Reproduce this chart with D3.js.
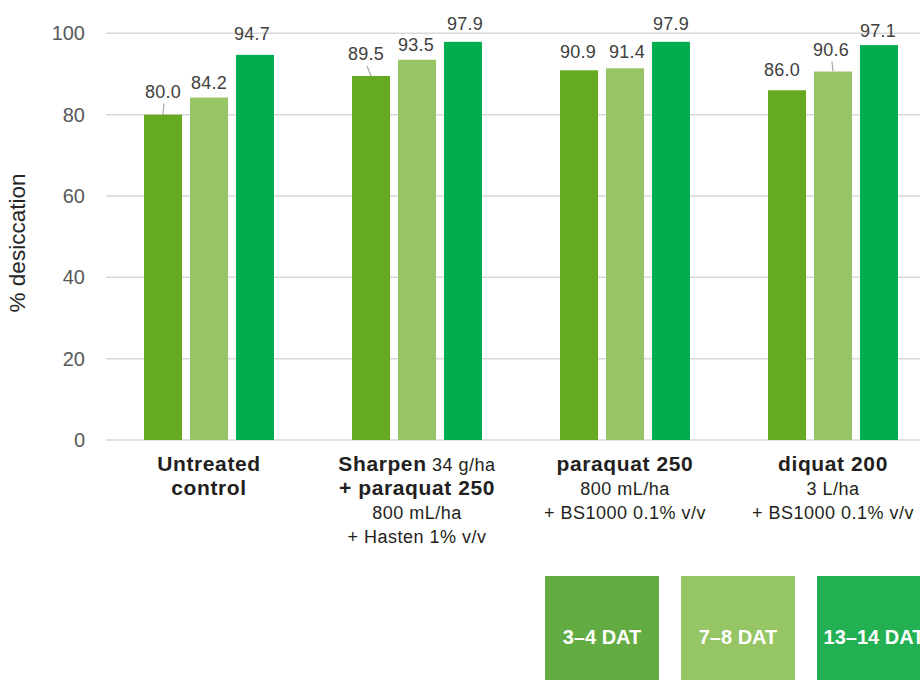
<!DOCTYPE html>
<html>
<head>
<meta charset="utf-8">
<script src="https://cdn.jsdelivr.net/npm/d3@7"></script>
<style>
  html, body { margin: 0; padding: 0; background: #fff; }
  svg { display: block; font-family: "Liberation Sans", Arial, sans-serif; }
</style>
</head>
<body>
<svg id="chart" width="920" height="680"></svg>
<script>
// ---- data ----
const categories = ["Untreated control", "Sharpen + paraquat 250", "paraquat 250", "diquat 200"];
const series = ["3–4 DAT", "7–8 DAT", "13–14 DAT"];
const valuesDAT34 = [80.0, 89.5, 90.9, 86.0];
const valuesDAT78 = [84.2, 93.5, 91.4, 90.6];
const valuesDAT1314 = [94.7, 97.9, 97.9, 97.1];
const yTicks = [0, 20, 40, 60, 80, 100];
const yTitle = "% desiccation";
const categoryLines = [
  [[["Untreated", true]], [["control", true]]],
  [[["Sharpen", true], [" 34 g/ha", false]], [["+ paraquat 250", true]], [["800 mL/ha", false]], [["+ Hasten 1% v/v", false]]],
  [[["paraquat 250", true]], [["800 mL/ha", false]], [["+ BS1000 0.1% v/v", false]]],
  [[["diquat 200", true]], [["3 L/ha", false]], [["+ BS1000 0.1% v/v", false]]]
];

// ---- layout / style (not data) ----
const barColors = ["#66aa22", "#97c566", "#00ad4f"];
const legendColors = ["#62ac43", "#96c565", "#22b052"];
// per-label nudges [dx, gap above bar top, leader line]
const labelNudge = [
  [[0, 17, true], [0, 9, false], [-3, 15, false]],
  [[-5, 16, true], [-1, 9, false], [2, 12, false]],
  [[-1, 12, false], [2, 10, false], [0, 12, false]],
  [[-5, 14, false], [-2, 16, true], [-1, 8, false]]
];

const seriesValues = [valuesDAT34, valuesDAT78, valuesDAT1314];
const svg = d3.select("#chart");

const x0 = d3.scaleBand().domain(categories).range([105, 937]).paddingInner(0.375).paddingOuter(0.1875);
const x1 = d3.scaleBand().domain(series).range([0, x0.bandwidth()]).paddingInner(8 / 46);
const y = d3.scaleLinear().domain([0, 100]).range([440, 33.3]);

// gridlines + tick labels
const yAxis = d3.axisLeft(y).tickValues(yTicks).tickSize(0).tickPadding(21);
const gAxis = svg.append("g").attr("transform", "translate(106,0)").call(yAxis);
gAxis.select(".domain").remove();
gAxis.selectAll("text")
  .attr("font-size", 20)
  .attr("fill", "#595959")
  .attr("font-family", "Liberation Sans, Arial, sans-serif");
svg.append("g").selectAll("line").data(yTicks).join("line")
  .attr("x1", 106).attr("x2", 920)
  .attr("y1", d => y(d)).attr("y2", d => y(d))
  .attr("stroke", "#d9d9d9").attr("stroke-width", 1.5);

// y title
svg.append("text")
  .attr("transform", `translate(25,243) rotate(-90)`)
  .attr("text-anchor", "middle")
  .attr("font-size", 22.5)
  .attr("fill", "#262626")
  .text(yTitle);

// bars
const groups = svg.append("g").selectAll("g").data(categories).join("g")
  .attr("transform", d => `translate(${x0(d)},0)`);

groups.each(function(cat, ci) {
  const g = d3.select(this);
  series.forEach((s, si) => {
    const v = seriesValues[si][ci];
    const bx = x1(s), bw = x1.bandwidth();
    g.append("rect")
      .attr("x", bx).attr("y", y(v))
      .attr("width", bw).attr("height", y(0) - y(v))
      .attr("fill", barColors[si]);
    const [dx, gap, leader] = labelNudge[ci][si];
    const lx = bx + bw / 2 + dx;
    const ly = y(v) - gap;
    g.append("text")
      .attr("x", lx).attr("y", ly)
      .attr("text-anchor", "middle")
      .attr("font-size", 18)
      .attr("letter-spacing", 0.3)
      .attr("fill", "#404040")
      .text(v.toFixed(1));
    if (leader) {
      g.append("line")
        .attr("x1", lx + 1).attr("y1", ly + 6)
        .attr("x2", bx + bw / 2).attr("y2", y(v))
        .attr("stroke", "#a6a6a6").attr("stroke-width", 1.2);
    }
  });
});

// category labels
categories.forEach((cat, ci) => {
  const cx = x0(cat) + x0.bandwidth() / 2;
  const t = svg.append("text")
    .attr("text-anchor", "middle")
    .attr("fill", "#231f20");
  categoryLines[ci].forEach((line, li) => {
    line.forEach((part, pi) => {
      const ts = t.append("tspan")
        .attr("font-weight", part[1] ? "bold" : "normal")
        .attr("font-size", part[1] ? 21 : 18)
        .attr("letter-spacing", part[1] ? 0.6 : 0.5)
        .text(part[0]);
      if (pi === 0) ts.attr("x", cx).attr("y", 471 + li * 24);
    });
  });
});

// legend
const legW = 114, legStep = 136, legX = 545, legY = 576;
const leg = svg.append("g").selectAll("g").data(series).join("g")
  .attr("transform", (d, i) => `translate(${legX + i * legStep},${legY})`);
leg.append("rect")
  .attr("width", legW).attr("height", 110)
  .attr("fill", (d, i) => legendColors[i]);
leg.append("text")
  .attr("x", legW / 2).attr("y", 67.5)
  .attr("text-anchor", "middle")
  .attr("font-size", 20)
  .attr("font-weight", "bold")
  .attr("fill", "#ffffff")
  .text(d => d);
</script>
</body>
</html>
